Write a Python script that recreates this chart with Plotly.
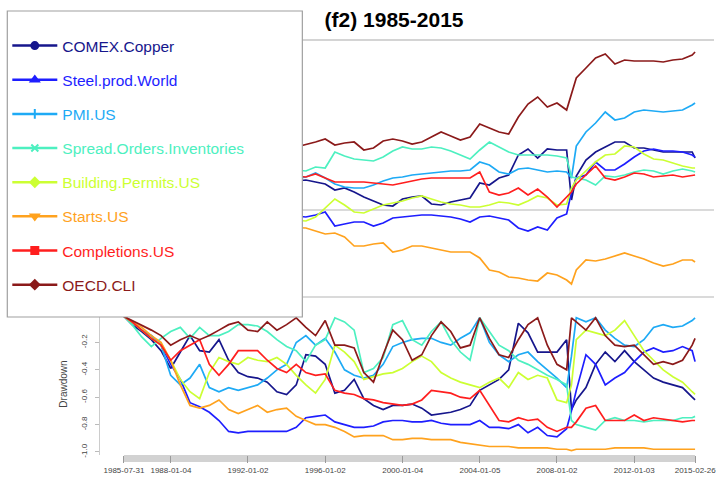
import plotly.graph_objects as go

# ---------------- data ----------------
series_names = ["COMEX.Copper", "Steel.prod.World", "PMI.US", "Spread.Orders.Inventories",
                "Building.Permits.US", "Starts.US", "Completions.US", "OECD.CLI"]
series_colors = ["#16168C", "#1E1EFF", "#1EAAF5", "#4DF0C0",
                 "#CCFF33", "#FFA21E", "#FF1E1E", "#8B1A1A"]
legend_symbols = ["circle", "triangle-up", "cross-thin", "x-thin",
                  "diamond", "triangle-down", "square", "diamond"]

# cumulative performance (top panel)
top_years = [1985.58, 1986.5, 1987.5, 1988.5, 1989.5, 1990.5, 1991.5, 1992.5, 1993.5, 1994.5,
             1995.0, 1995.5, 1996.0, 1996.5, 1997.0, 1997.5, 1998.0, 1998.5, 1999.0, 1999.5,
             2000.0, 2000.5, 2001.0, 2001.5, 2002.0, 2002.5, 2003.0, 2003.5, 2004.0, 2004.5,
             2005.0, 2005.5, 2006.0, 2006.5, 2007.0, 2007.5, 2008.0, 2008.5, 2008.75, 2009.0,
             2009.5, 2010.0, 2010.5, 2011.0, 2011.5, 2012.0, 2012.5, 2013.0, 2013.5, 2014.0,
             2014.5, 2015.0, 2015.15]

cum_comex = [1.00, 0.95, 1.10, 0.90, 1.00, 1.05, 1.10, 1.12, 1.15, 1.16,
             1.17, 1.15, 1.13, 1.07, 1.09, 1.05, 1.00, 0.96, 0.92, 0.91,
             0.98, 1.00, 1.01, 0.93, 0.92, 0.95, 0.97, 0.99, 1.14, 1.12,
             1.19, 1.22, 1.42, 1.48, 1.39, 1.48, 1.47, 1.47, 0.97, 1.21,
             1.37, 1.45, 1.50, 1.55, 1.55, 1.49, 1.49, 1.47, 1.45, 1.45,
             1.45, 1.45, 1.39]
cum_steel = [1.00, 0.95, 0.85, 0.75, 0.78, 0.80, 0.78, 0.79, 0.80, 0.81,
             0.80, 0.82, 0.85, 0.71, 0.73, 0.75, 0.75, 0.71, 0.74, 0.79,
             0.80, 0.81, 0.82, 0.82, 0.81, 0.80, 0.78, 0.75, 0.80, 0.81,
             0.79, 0.77, 0.69, 0.66, 0.70, 0.67, 0.79, 0.83, 1.05, 1.19,
             1.22, 1.35, 1.27, 1.27, 1.33, 1.40, 1.46, 1.48, 1.46, 1.46,
             1.45, 1.42, 1.40]
cum_pmi = [1.00, 1.05, 0.95, 1.00, 0.98, 1.05, 1.10, 1.12, 1.15, 1.18,
           1.20, 1.24, 1.19, 1.13, 1.10, 1.09, 1.09, 1.12, 1.16, 1.19,
           1.20, 1.22, 1.23, 1.24, 1.25, 1.26, 1.26, 1.27, 1.35, 1.32,
           1.25, 1.23, 1.28, 1.29, 1.27, 1.25, 1.26, 1.25, 1.19, 1.51,
           1.65, 1.74, 1.85, 1.77, 1.79, 1.85, 1.87, 1.86, 1.85, 1.86,
           1.87, 1.92, 1.94]
cum_spread = [1.00, 1.10, 1.05, 1.15, 1.20, 1.18, 1.22, 1.25, 1.28, 1.27,
              1.26, 1.30, 1.29, 1.45, 1.41, 1.38, 1.37, 1.36, 1.40, 1.46,
              1.50, 1.48, 1.48, 1.50, 1.49, 1.46, 1.42, 1.38, 1.47, 1.55,
              1.50, 1.45, 1.42, 1.42, 1.42, 1.42, 1.41, 1.39, 1.20, 1.19,
              1.17, 1.12, 1.21, 1.20, 1.22, 1.25, 1.27, 1.26, 1.23, 1.26,
              1.28, 1.26, 1.25]
cum_building = [1.00, 0.95, 0.85, 0.80, 0.78, 0.75, 0.78, 0.80, 0.78, 0.77,
                0.76, 0.80, 0.89, 0.98, 0.92, 0.85, 0.84, 0.88, 0.92, 0.94,
                0.96, 0.99, 1.01, 0.98, 0.95, 0.93, 0.92, 0.90, 0.90, 0.92,
                0.95, 0.94, 0.92, 0.96, 1.01, 0.99, 0.92, 0.93, 1.09, 1.17,
                1.26, 1.35, 1.42, 1.43, 1.51, 1.50, 1.43, 1.38, 1.37, 1.34,
                1.31, 1.29, 1.29]
cum_starts = [1.00, 0.95, 0.80, 0.75, 0.70, 0.68, 0.70, 0.72, 0.70, 0.69,
              0.69, 0.66, 0.63, 0.64, 0.60, 0.51, 0.51, 0.53, 0.54, 0.45,
              0.47, 0.51, 0.51, 0.49, 0.47, 0.45, 0.45, 0.45, 0.39, 0.27,
              0.25, 0.20, 0.19, 0.17, 0.16, 0.24, 0.22, 0.17, 0.13, 0.27,
              0.37, 0.36, 0.38, 0.41, 0.44, 0.41, 0.38, 0.34, 0.31, 0.33,
              0.37, 0.37, 0.35]
cum_completions = [1.00, 1.05, 1.00, 1.10, 1.08, 1.12, 1.15, 1.18, 1.20, 1.21,
                   1.20, 1.23, 1.19, 1.15, 1.15, 1.15, 1.15, 1.14, 1.13, 1.12,
                   1.14, 1.16, 1.18, 1.19, 1.19, 1.19, 1.19, 1.19, 1.25, 1.05,
                   1.02, 1.04, 1.09, 1.02, 1.08, 1.00, 0.90, 1.00, 1.05, 1.13,
                   1.22, 1.31, 1.19, 1.17, 1.20, 1.24, 1.23, 1.20, 1.21, 1.22,
                   1.20, 1.21, 1.22]
cum_oecd = [1.00, 1.10, 1.05, 1.20, 1.25, 1.30, 1.35, 1.40, 1.45, 1.50,
            1.52, 1.55, 1.58, 1.52, 1.54, 1.55, 1.47, 1.49, 1.56, 1.58,
            1.56, 1.53, 1.55, 1.60, 1.65, 1.61, 1.57, 1.60, 1.73, 1.69,
            1.65, 1.63, 1.80, 1.93, 2.00, 1.90, 1.94, 1.87, 2.02, 2.19,
            2.29, 2.39, 2.43, 2.33, 2.37, 2.36, 2.36, 2.36, 2.35, 2.37,
            2.38, 2.42, 2.45]

# drawdown (bottom panel)
dd_years = [1985.58, 1986.0, 1986.5, 1987.0, 1987.5, 1988.0, 1988.5, 1989.0, 1989.5, 1990.0,
            1990.5, 1991.0, 1991.5, 1992.0, 1992.5, 1993.0, 1993.5, 1994.0, 1994.5, 1995.0,
            1995.5, 1996.0, 1996.5, 1997.0, 1997.5, 1998.0, 1998.5, 1999.0, 1999.5, 2000.0,
            2000.5, 2001.0, 2001.5, 2002.0, 2002.5, 2003.0, 2003.5, 2004.0, 2004.5, 2005.0,
            2005.5, 2006.0, 2006.5, 2007.0, 2007.5, 2008.0, 2008.5, 2008.75, 2009.0, 2009.5,
            2010.0, 2010.5, 2011.0, 2011.5, 2012.0, 2012.5, 2013.0, 2013.5, 2014.0, 2014.5,
            2015.0, 2015.15]

dd_comex = [-0.01, -0.07, -0.12, -0.18, -0.26, -0.39, -0.27, -0.15, -0.26, -0.27,
            -0.18, -0.33, -0.42, -0.45, -0.46, -0.49, -0.56, -0.58, -0.51, -0.29,
            -0.30, -0.36, -0.57, -0.55, -0.47, -0.61, -0.66, -0.69, -0.66, -0.66,
            -0.65, -0.68, -0.73, -0.72, -0.71, -0.69, -0.66, -0.55, -0.51, -0.47,
            -0.40, -0.06, -0.13, -0.27, -0.27, -0.27, -0.18, -0.69, -0.62, -0.53,
            -0.36, -0.27, -0.34, -0.26, -0.34, -0.40, -0.46, -0.49, -0.51, -0.53,
            -0.60, -0.62]
dd_steel = [-0.01, -0.05, -0.11, -0.15, -0.22, -0.36, -0.47, -0.64, -0.67, -0.71,
            -0.77, -0.85, -0.86, -0.85, -0.85, -0.85, -0.85, -0.85, -0.82, -0.75,
            -0.74, -0.73, -0.78, -0.80, -0.82, -0.82, -0.81, -0.78, -0.77, -0.77,
            -0.78, -0.78, -0.77, -0.79, -0.80, -0.80, -0.80, -0.77, -0.82, -0.82,
            -0.83, -0.80, -0.86, -0.82, -0.88, -0.89, -0.83, -0.70, -0.55, -0.29,
            -0.36, -0.51, -0.46, -0.42, -0.34, -0.27, -0.24, -0.27, -0.26, -0.23,
            -0.26, -0.34]
dd_pmi = [-0.01, -0.05, -0.11, -0.15, -0.22, -0.44, -0.51, -0.46, -0.36, -0.53,
          -0.56, -0.53, -0.55, -0.53, -0.51, -0.46, -0.40, -0.36, -0.20, -0.15,
          -0.22, -0.17, -0.27, -0.40, -0.44, -0.46, -0.44, -0.36, -0.23, -0.20,
          -0.18, -0.17, -0.17, -0.20, -0.22, -0.17, -0.13, -0.02, -0.20, -0.29,
          -0.34, -0.29, -0.27, -0.34, -0.40, -0.46, -0.53, -0.30, -0.02, -0.05,
          -0.02, -0.11, -0.17, -0.22, -0.23, -0.18, -0.09, -0.07, -0.09, -0.08,
          -0.04, -0.02]
dd_spread = [-0.01, -0.07, -0.16, -0.23, -0.17, -0.12, -0.09, -0.17, -0.09, -0.15,
             -0.15, -0.12, -0.07, -0.07, -0.08, -0.12, -0.18, -0.23, -0.26, -0.34,
             -0.22, -0.18, -0.02, -0.05, -0.11, -0.42, -0.39, -0.31, -0.07, -0.04,
             -0.18, -0.22, -0.12, -0.05, -0.18, -0.27, -0.33, -0.02, -0.12, -0.22,
             -0.26, -0.33, -0.36, -0.40, -0.44, -0.47, -0.51, -0.77, -0.80, -0.82,
             -0.84, -0.77, -0.75, -0.77, -0.77, -0.78, -0.77, -0.77, -0.77, -0.75,
             -0.75, -0.74]
dd_building = [-0.01, -0.05, -0.11, -0.17, -0.22, -0.33, -0.47, -0.56, -0.61, -0.42,
               -0.31, -0.34, -0.36, -0.31, -0.33, -0.34, -0.31, -0.36, -0.44, -0.51,
               -0.57, -0.47, -0.22, -0.27, -0.34, -0.47, -0.45, -0.43, -0.42, -0.39,
               -0.34, -0.30, -0.34, -0.42, -0.46, -0.49, -0.51, -0.53, -0.49, -0.46,
               -0.53, -0.42, -0.47, -0.44, -0.46, -0.62, -0.64, -0.51, -0.18, -0.11,
               -0.13, -0.15, -0.11, -0.04, -0.15, -0.26, -0.33, -0.40, -0.45, -0.49,
               -0.56, -0.58]
dd_starts = [-0.01, -0.05, -0.09, -0.15, -0.20, -0.33, -0.51, -0.66, -0.68, -0.66,
             -0.62, -0.69, -0.72, -0.69, -0.66, -0.71, -0.69, -0.68, -0.74, -0.77,
             -0.80, -0.80, -0.82, -0.85, -0.89, -0.88, -0.88, -0.88, -0.91, -0.91,
             -0.90, -0.90, -0.91, -0.91, -0.91, -0.93, -0.94, -0.95, -0.96, -0.96,
             -0.96, -0.97, -0.97, -0.97, -0.97, -0.98, -0.98, -0.99, -0.98, -0.98,
             -0.98, -0.98, -0.97, -0.97, -0.97, -0.97, -0.98, -0.98, -0.98, -0.98,
             -0.98, -0.98]
dd_completions = [-0.01, -0.05, -0.11, -0.17, -0.22, -0.33, -0.26, -0.22, -0.18, -0.36,
                  -0.44, -0.36, -0.26, -0.26, -0.26, -0.33, -0.39, -0.42, -0.36, -0.42,
                  -0.44, -0.43, -0.55, -0.57, -0.58, -0.61, -0.62, -0.64, -0.65, -0.66,
                  -0.65, -0.62, -0.55, -0.56, -0.57, -0.60, -0.61, -0.55, -0.66, -0.77,
                  -0.78, -0.75, -0.77, -0.76, -0.82, -0.85, -0.82, -0.82, -0.78, -0.68,
                  -0.66, -0.77, -0.77, -0.77, -0.73, -0.77, -0.75, -0.76, -0.77, -0.78,
                  -0.77, -0.77]
dd_oecd = [-0.01, -0.04, -0.07, -0.11, -0.15, -0.22, -0.18, -0.15, -0.18, -0.15,
           -0.11, -0.07, -0.05, -0.11, -0.12, -0.05, -0.11, -0.07, -0.02, -0.09,
           -0.15, -0.04, -0.22, -0.22, -0.24, -0.42, -0.49, -0.29, -0.11, -0.18,
           -0.33, -0.29, -0.15, -0.05, -0.12, -0.24, -0.22, -0.02, -0.17, -0.29,
           -0.31, -0.18, -0.07, -0.02, -0.22, -0.36, -0.40, -0.02, -0.05, -0.11,
           -0.02, -0.15, -0.22, -0.23, -0.22, -0.29, -0.36, -0.34, -0.36, -0.33,
           -0.22, -0.17]

tick_years = [1985.58, 1988.01, 1992.0, 1996.0, 2000.01, 2004.01, 2008.0, 2012.0, 2015.155]
tick_labels = ["1985-07-31", "1988-01-04", "1992-01-02", "1996-01-02", "2000-01-04",
               "2004-01-05", "2008-01-02", "2012-01-03", "2015-02-26"]
dd_ticks = [0, -0.2, -0.4, -0.6, -0.8, -1.0]
dd_tick_labels = ["0", "-0.2", "-0.4", "-0.6", "-0.8", "-1.0"]
top_grid = [0, 0.87]

cum_series = [cum_comex, cum_steel, cum_pmi, cum_spread, cum_building, cum_starts, cum_completions, cum_oecd]
dd_series = [dd_comex, dd_steel, dd_pmi, dd_spread, dd_building, dd_starts, dd_completions, dd_oecd]

# ---------------- figure ----------------
FONT = "Liberation Sans, Arial, sans-serif"
fig = go.Figure()

for name, col, vals in zip(series_names, series_colors, cum_series):
    fig.add_trace(go.Scatter(x=top_years, y=vals, mode="lines", xaxis="x2", yaxis="y",
                             line=dict(color=col, width=1.7), showlegend=False, hoverinfo="skip"))
for name, col, vals in zip(series_names, series_colors, dd_series):
    fig.add_trace(go.Scatter(x=dd_years, y=vals, mode="lines", xaxis="x", yaxis="y2",
                             line=dict(color=col, width=1.7), showlegend=False, hoverinfo="skip"))
# legend entries (text coloured like the series)
for i, (name, col, sym) in enumerate(zip(series_names, series_colors, legend_symbols)):
    fig.add_trace(go.Scatter(x=[None], y=[None], mode="lines+markers", xaxis="x2", yaxis="y",
                             name=f'<span style="color:{col}">{name}</span>', legendgroup=f"g{i}",
                             line=dict(color=col, width=2.5),
                             marker=dict(symbol=sym, size=7, color=col, line=dict(color=col, width=2))))

W, H = 716, 477
ML, MR, MT, MB = 100, 0, 40, 15
pw, ph = W - ML - MR, H - MT - MB
px = lambda p: (p - ML) / pw
py = lambda p: (H - MB - p) / ph

shapes = [
    dict(type="rect", xref="paper", yref="paper", x0=px(7), x1=px(303), y0=py(317), y1=py(11),
         fillcolor="white", line=dict(color="#a0a0a0", width=1.2), layer="above"),
    dict(type="line", xref="paper", yref="paper", x0=0, x1=1, y0=1, y1=1,
         line=dict(color="#d4d4d4", width=2), layer="below"),
    dict(type="rect", xref="x", yref="paper", x0=dd_years[0], x1=dd_years[-1], y0=0, y1=py(455),
         fillcolor="#d2d2d2", line=dict(width=0), layer="below"),
]

fig.update_layout(
    width=W, height=H,
    margin=dict(l=ML, r=MR, t=MT, b=MB),
    paper_bgcolor="white", plot_bgcolor="white",
    font=dict(family=FONT, color="#444"),
    title=dict(text="<b>(f2) 1985-2015</b>", x=px(395), xref="paper", xanchor="center",
               y=1 - 20 / H, yref="container", yanchor="middle",
               font=dict(size=21, color="black", family=FONT)),
    xaxis=dict(domain=[0, 1], anchor="y2", range=[1984.34, 2016.13],
               tickvals=tick_years, ticktext=tick_labels, tickfont=dict(size=8, color="#444"),
               ticks="outside", ticklen=7, tickcolor="#9a9a9a", tickwidth=1,
               ticklabeloverflow="allow",
               showgrid=False, zeroline=False, showline=False),
    xaxis2=dict(domain=[0, 1], anchor="y", matches="x", showticklabels=False,
                showgrid=False, zeroline=False, showline=False, ticks=""),
    yaxis=dict(domain=[py(300), 1], anchor="x2", range=[-0.03, 2.57],
               tickvals=top_grid, showticklabels=False, ticks="",
               showgrid=True, gridcolor="#dadada", gridwidth=1.5, zeroline=False),
    yaxis2=dict(domain=[py(455), py(313)], anchor="x", range=[-1.022, 0.015],
                tickvals=dd_ticks, ticktext=dd_tick_labels, tickangle=-90,
                tickfont=dict(size=8, color="#444"), ticks="outside", ticklen=4, tickcolor="#bbbbbb",
                ticklabelstandoff=5,
                showgrid=False, zeroline=False, showline=True, linecolor="#cccccc", linewidth=1,
                title=dict(text="Drawdown", font=dict(size=10, color="#444"), standoff=10)),
    showlegend=True,
    legend=dict(x=px(7), y=py(29), xanchor="left", yanchor="top", maxheight=420,
                bgcolor="rgba(0,0,0,0)", borderwidth=0,
                font=dict(size=15.5, family=FONT), tracegroupgap=11, itemwidth=45,
                itemclick=False, itemdoubleclick=False),
    shapes=shapes,
)

fig.write_html("out.html", config={"displayModeBar": False},
               post_script="document.body.style.margin='0';")
